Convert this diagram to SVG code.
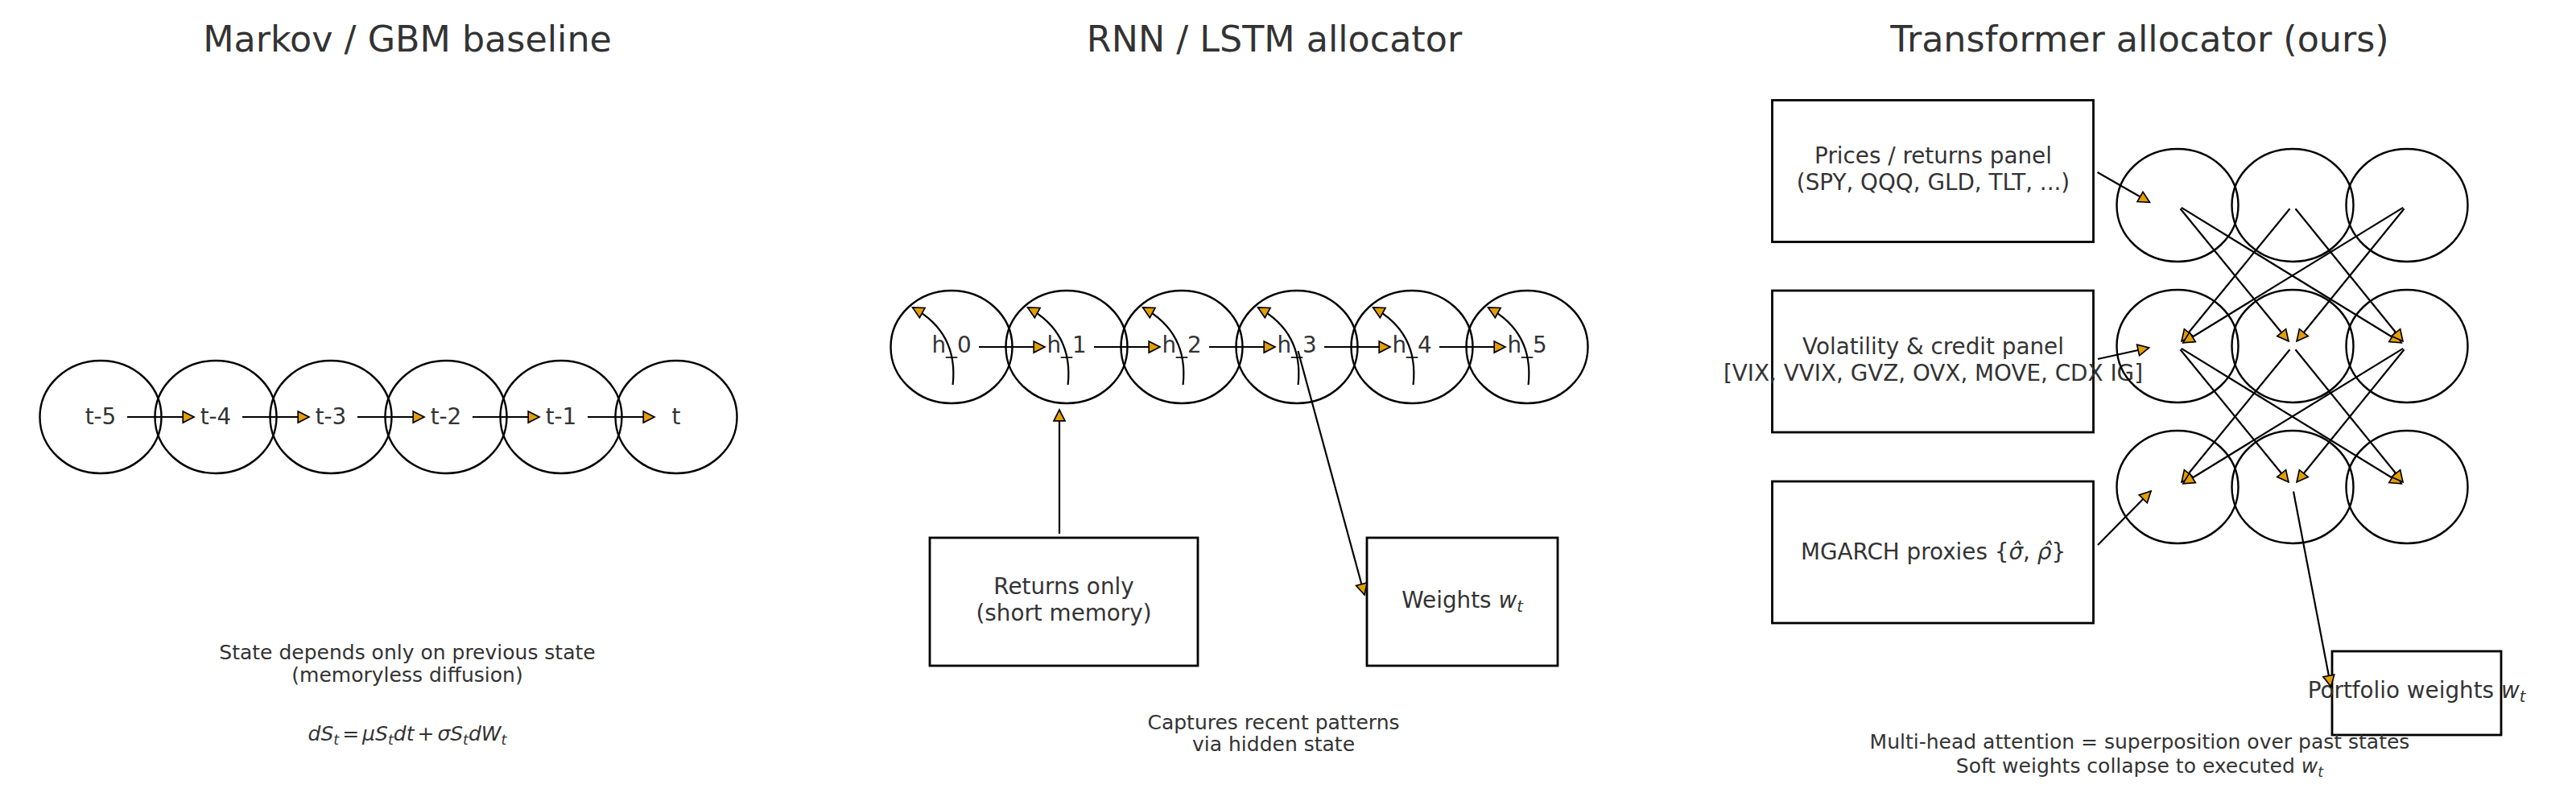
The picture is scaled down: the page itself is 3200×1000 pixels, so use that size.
<svg xmlns="http://www.w3.org/2000/svg" width="3200" height="1000" viewBox="0 0 3200 1000">
<style>
text{font-family:"DejaVu Sans","Liberation Sans",sans-serif;fill:#333333}
.title{font-size:44.4px;text-anchor:middle}
.lbl{font-size:27.8px;text-anchor:middle}
.cap{font-size:25px;text-anchor:middle}
.node{fill:none;stroke:#000;stroke-width:2.4}
.box{fill:none;stroke:#000;stroke-width:2.8}
.it{font-style:italic}
#connectors path{fill:none;stroke:#000;stroke-width:2.2;marker-end:url(#ah)}
</style>
<defs>
<marker id="ah" markerUnits="userSpaceOnUse" markerWidth="30" markerHeight="30" refX="13.8" refY="7" orient="auto" overflow="visible">
<path d="M0,0 L13.8,7 L0,14 Z" fill="#E69F00" stroke="#000" stroke-width="1.7"/>
</marker>
</defs>
<rect width="3200" height="1000" fill="#fff"/>

<!-- Titles -->
<text class="title" x="506" y="64">Markov / GBM baseline</text>
<text class="title" x="1583" y="64">RNN / LSTM allocator</text>
<text class="title" x="2658" y="64">Transformer allocator (ours)</text>

<!-- Markov panel -->
<g id="m0"><ellipse class="node" cx="125" cy="518" rx="75.5" ry="70"/><text class="lbl" x="125" y="527">t-5</text></g>
<g id="m1"><ellipse class="node" cx="268" cy="518" rx="75.5" ry="70"/><text class="lbl" x="268" y="527">t-4</text></g>
<g id="m2"><ellipse class="node" cx="411" cy="518" rx="75.5" ry="70"/><text class="lbl" x="411" y="527">t-3</text></g>
<g id="m3"><ellipse class="node" cx="554" cy="518" rx="75.5" ry="70"/><text class="lbl" x="554" y="527">t-2</text></g>
<g id="m4"><ellipse class="node" cx="697" cy="518" rx="75.5" ry="70"/><text class="lbl" x="697" y="527">t-1</text></g>
<g id="m5"><ellipse class="node" cx="840" cy="518" rx="75.5" ry="70"/><text class="lbl" x="840" y="527">t</text></g>
<g id="markov-caption">
<text class="cap" x="506" y="819">State depends only on previous state</text>
<text class="cap" x="506" y="847">(memoryless diffusion)</text>
<text class="cap" x="506" y="920"><tspan class="it">dS</tspan><tspan class="it" font-size="17.5" dy="5">t</tspan><tspan dy="-5" dx="4">=</tspan><tspan class="it" dx="4">μS</tspan><tspan class="it" font-size="17.5" dy="5">t</tspan><tspan class="it" dy="-5">dt</tspan><tspan dx="4">+</tspan><tspan class="it" dx="4">σS</tspan><tspan class="it" font-size="17.5" dy="5">t</tspan><tspan class="it" dy="-5">dW</tspan><tspan class="it" font-size="17.5" dy="5">t</tspan></text>
</g>

<!-- RNN panel -->
<g id="h0"><ellipse class="node" cx="1182" cy="431" rx="75.5" ry="70"/><text class="lbl" x="1182" y="438">h_0</text></g>
<g id="h1"><ellipse class="node" cx="1325" cy="431" rx="75.5" ry="70"/><text class="lbl" x="1325" y="438">h_1</text></g>
<g id="h2"><ellipse class="node" cx="1468" cy="431" rx="75.5" ry="70"/><text class="lbl" x="1468" y="438">h_2</text></g>
<g id="h3"><ellipse class="node" cx="1611" cy="431" rx="75.5" ry="70"/><text class="lbl" x="1611" y="438">h_3</text></g>
<g id="h4"><ellipse class="node" cx="1754" cy="431" rx="75.5" ry="70"/><text class="lbl" x="1754" y="438">h_4</text></g>
<g id="h5"><ellipse class="node" cx="1897" cy="431" rx="75.5" ry="70"/><text class="lbl" x="1897" y="438">h_5</text></g>
<g id="returns"><rect class="box" x="1155" y="668" width="333" height="159"/><text class="lbl" x="1321.5" y="738">Returns only</text><text class="lbl" x="1321.5" y="771">(short memory)</text></g>
<g id="weights"><rect class="box" x="1698" y="668" width="237" height="159"/><text class="lbl" x="1816.5" y="755">Weights <tspan class="it">w</tspan><tspan class="it" font-size="19.5" dy="5">t</tspan></text></g>
<g id="rnn-caption">
<text class="cap" x="1582" y="906">Captures recent patterns</text>
<text class="cap" x="1582" y="933">via hidden state</text>
</g>

<!-- Transformer panel -->
<g id="prices"><rect class="box" x="2201.5" y="124.5" width="399" height="176"/><text class="lbl" x="2401.5" y="203">Prices / returns panel</text><text class="lbl" x="2401.5" y="236">(SPY, QQQ, GLD, TLT, ...)</text></g>
<g id="vol"><rect class="box" x="2201.5" y="361" width="399" height="176"/><text class="lbl" x="2401.5" y="440">Volatility &amp; credit panel</text><text class="lbl" x="2401.5" y="473">[VIX, VVIX, GVZ, OVX, MOVE, CDX IG]</text></g>
<g id="mgarch"><rect class="box" x="2201.5" y="598" width="399" height="176"/><text class="lbl" x="2401.5" y="695">MGARCH proxies {<tspan class="it">σ&#x302;</tspan>, <tspan class="it">ρ&#x302;</tspan>}</text></g>
<g id="a00"><ellipse class="node" cx="2705" cy="255" rx="75.5" ry="70"/></g>
<g id="a01"><ellipse class="node" cx="2848" cy="255" rx="75.5" ry="70"/></g>
<g id="a02"><ellipse class="node" cx="2990" cy="255" rx="75.5" ry="70"/></g>
<g id="a10"><ellipse class="node" cx="2705" cy="430" rx="75.5" ry="70"/></g>
<g id="a11"><ellipse class="node" cx="2848" cy="430" rx="75.5" ry="70"/></g>
<g id="a12"><ellipse class="node" cx="2990" cy="430" rx="75.5" ry="70"/></g>
<g id="a20"><ellipse class="node" cx="2705" cy="605" rx="75.5" ry="70"/></g>
<g id="a21"><ellipse class="node" cx="2848" cy="605" rx="75.5" ry="70"/></g>
<g id="a22"><ellipse class="node" cx="2990" cy="605" rx="75.5" ry="70"/></g>
<g id="portfolio"><rect class="box" x="2897" y="809" width="210" height="104"/><text class="lbl" x="3002" y="867">Portfolio weights <tspan class="it">w</tspan><tspan class="it" font-size="19.5" dy="5">t</tspan></text></g>
<g id="tf-caption">
<text class="cap" x="2658" y="930">Multi-head attention = superposition over past states</text>
<text class="cap" x="2658" y="960">Soft weights collapse to executed <tspan class="it">w</tspan><tspan class="it" font-size="17.5" dy="5">t</tspan></text>
</g>

<g id="connectors">
<!-- Markov chain -->
<path d="M158,518 L241,518"/>
<path d="M301,518 L384,518"/>
<path d="M444,518 L527,518"/>
<path d="M587,518 L670,518"/>
<path d="M730,518 L813,518"/>
<!-- RNN chain -->
<path d="M1216,431 L1298,431"/>
<path d="M1359,431 L1441,431"/>
<path d="M1502,431 L1584,431"/>
<path d="M1645,431 L1727,431"/>
<path d="M1788,431 L1870,431"/>
<!-- RNN self loops -->
<path d="M1183.6,478 Q1190.6,413 1133.6,382"/>
<path d="M1326.6,478 Q1333.6,413 1276.6,382"/>
<path d="M1469.6,478 Q1476.6,413 1419.6,382"/>
<path d="M1612.6,478 Q1619.6,413 1562.6,382"/>
<path d="M1755.6,478 Q1762.6,413 1705.6,382"/>
<path d="M1898.6,478 Q1905.6,413 1848.6,382"/>
<!-- RNN in/out -->
<path d="M1316,663 L1316,509"/>
<path d="M1612.5,436 L1695,739"/>
<!-- Transformer inputs -->
<path d="M2605.5,214 L2670.5,251.3"/>
<path d="M2606,446 L2669.6,432"/>
<path d="M2606,677 L2672,610"/>
<!-- attention row 0 -> 1 -->
<path d="M2708.5,259.3 L2842.9,423.8"/>
<path d="M2709.8,257.9 L2983.2,425.8"/>
<path d="M2844.5,259.3 L2710.1,423.8"/>
<path d="M2851.5,259.3 L2984.9,423.8"/>
<path d="M2985.2,257.9 L2711.8,425.8"/>
<path d="M2986.5,259.3 L2853.1,423.8"/>
<!-- attention row 1 -> 2 -->
<path d="M2708.5,434.3 L2842.9,598.8"/>
<path d="M2709.8,432.9 L2983.2,600.8"/>
<path d="M2844.5,434.3 L2710.1,598.8"/>
<path d="M2851.5,434.3 L2984.9,598.8"/>
<path d="M2985.2,432.9 L2711.8,600.8"/>
<path d="M2986.5,434.3 L2853.1,598.8"/>
<!-- output -->
<path d="M2849,610.5 L2895.5,853"/>
</g>
</svg>
